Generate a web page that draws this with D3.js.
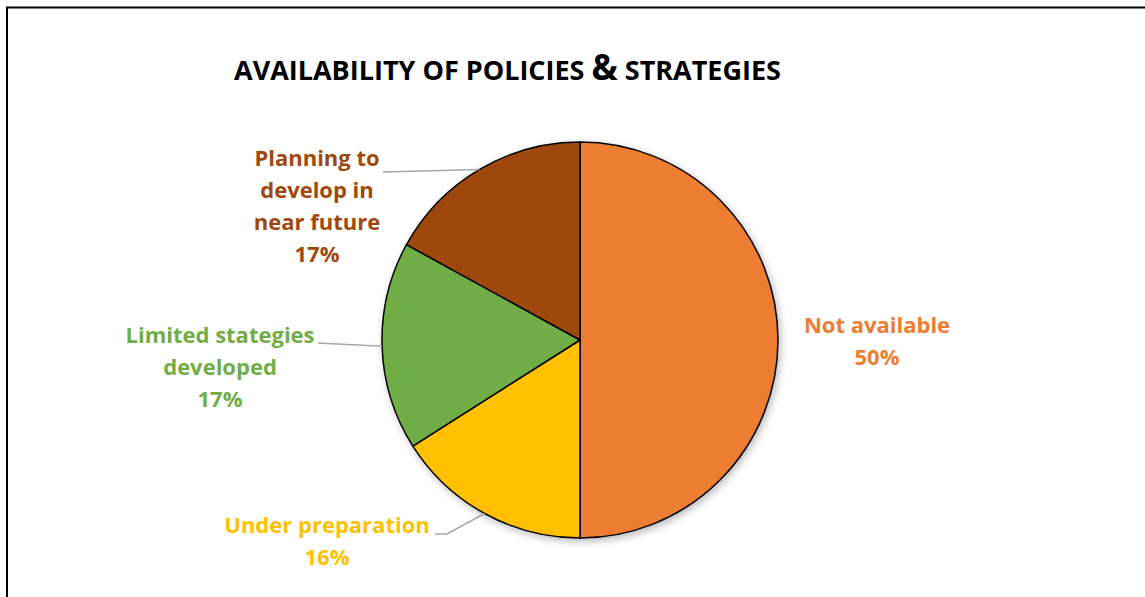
<!DOCTYPE html>
<html>
<head>
<meta charset="utf-8">
<script src="https://cdn.jsdelivr.net/npm/d3@7"></script>
<style>
  html, body { margin: 0; padding: 0; background: #fff; }
  svg { display: block; }
</style>
</head>
<body>
<svg id="chart" width="1145" height="597"></svg>
<script>
// Chart data
const categories = ["Not available", "Under preparation", "Limited stategies developed", "Planning to develop in near future"];
const values = [50, 16, 17, 17];
const colors = ["#ED7D31", "#FFC000", "#70AD47", "#9E480E"];
const labelLines = [
  ["Not available", "50%"],
  ["Under preparation", "16%"],
  ["Limited stategies", "developed", "17%"],
  ["Planning to", "develop in", "near future", "17%"]
];

// Layout
const W = 1145, H = 597;
const cx = 580, cy = 340, R = 198;
const lineH = 32;
const fontFam = "'Open Sans', sans-serif";
// label block center (x) and first baseline (y), relative to pie center
const labelPos = [
  { x: 297, y: -7 },
  { x: -253, y: 193 },
  { x: -360, y: 3 },
  { x: -263, y: -174 }
];
// leader line start (text side) relative to pie center
const leaderStart = [
  null,
  [[-145, 194], [-133, 194]],
  [[-262, 3]],
  [[-197, -168]]
];

const svg = d3.select("#chart");

// frame lines (top and left)
svg.append("path")
  .attr("d", `M7,597 L7,7.5 L1145,7.5`)
  .attr("fill", "none").attr("stroke", "#000").attr("stroke-width", 2);

// title
const title = svg.append("text")
  .attr("x", 234).attr("y", 80)
  .attr("font-family", fontFam).attr("font-weight", 700)
  .attr("font-size", 27).attr("fill", "#000");
title.append("tspan").text("AVAILABILITY OF POLICIES ");
title.append("tspan").attr("font-size", 35).text("&");
title.append("tspan").text(" STRATEGIES");

// soft shadow under the pie
const defs = svg.append("defs");
const f = defs.append("filter").attr("id", "shadow")
  .attr("x", "-20%").attr("y", "-20%").attr("width", "140%").attr("height", "140%");
f.append("feDropShadow").attr("dx", 2).attr("dy", 3).attr("stdDeviation", 4)
  .attr("flood-color", "#000").attr("flood-opacity", 0.3);

const pie = d3.pie().sort(null).value(d => d)(values);
const arc = d3.arc().innerRadius(0).outerRadius(R);

const g = svg.append("g").attr("transform", `translate(${cx},${cy})`);

g.append("circle").attr("r", R).attr("fill", "#fff").attr("filter", "url(#shadow)");

g.selectAll("path.slice").data(pie).join("path")
  .attr("class", "slice")
  .attr("d", arc)
  .attr("fill", (d, i) => colors[i])
  .attr("stroke", "#000").attr("stroke-width", 1.5)
  .attr("stroke-linejoin", "round");

// leader lines, ending on the rim at each slice's mid-angle
pie.forEach((d, i) => {
  if (!leaderStart[i]) return;
  const mid = (d.startAngle + d.endAngle) / 2;
  const end = [R * Math.sin(mid), -R * Math.cos(mid)];
  const pts = leaderStart[i].concat([end]);
  g.append("path")
    .attr("d", d3.line()(pts))
    .attr("fill", "none").attr("stroke", "#A6A6A6").attr("stroke-width", 1.5);
});

// data labels
labelLines.forEach((lines, i) => {
  const t = g.append("text")
    .attr("text-anchor", "middle")
    .attr("font-family", fontFam).attr("font-weight", 700)
    .attr("font-size", 22).attr("fill", colors[i]);
  lines.forEach((s, k) => {
    t.append("tspan").attr("x", labelPos[i].x).attr("y", labelPos[i].y + k * lineH).text(s);
  });
});
</script>
</body>
</html>
